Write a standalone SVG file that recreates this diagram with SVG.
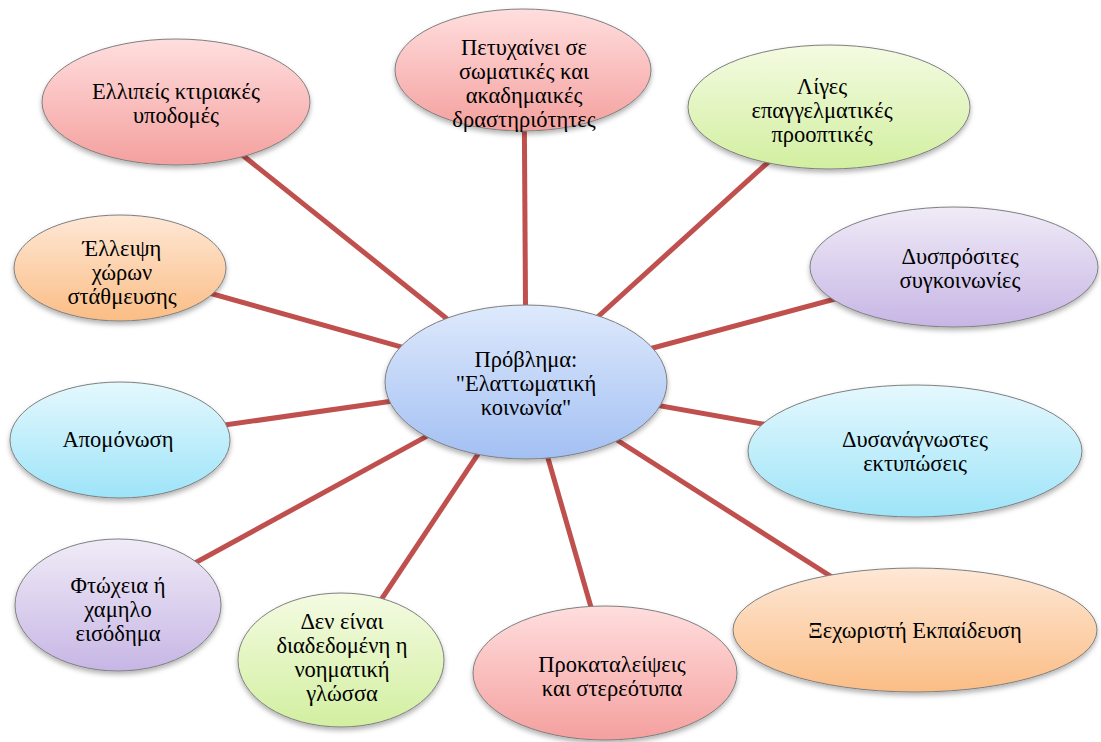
<svg xmlns="http://www.w3.org/2000/svg" width="1101" height="742" viewBox="0 0 1101 742">
<defs>
<linearGradient id="gRed" x1="0" y1="0" x2="0" y2="1"><stop offset="0" stop-color="#FFDEDE"/><stop offset="1" stop-color="#F4A09E"/></linearGradient>
<linearGradient id="gBlue" x1="0" y1="0" x2="0" y2="1"><stop offset="0" stop-color="#DEE9FC"/><stop offset="1" stop-color="#A3C0F3"/></linearGradient>
<linearGradient id="gGreen" x1="0" y1="0" x2="0" y2="1"><stop offset="0" stop-color="#F4FBE2"/><stop offset="1" stop-color="#D2EFA0"/></linearGradient>
<linearGradient id="gOrange" x1="0" y1="0" x2="0" y2="1"><stop offset="0" stop-color="#FEE8D6"/><stop offset="1" stop-color="#FBBD85"/></linearGradient>
<linearGradient id="gPurple" x1="0" y1="0" x2="0" y2="1"><stop offset="0" stop-color="#F0EBF7"/><stop offset="1" stop-color="#C7B6E5"/></linearGradient>
<linearGradient id="gCyan" x1="0" y1="0" x2="0" y2="1"><stop offset="0" stop-color="#E5F8FE"/><stop offset="1" stop-color="#9DE4F8"/></linearGradient>
<filter id="sh" x="-10%" y="-10%" width="120%" height="130%"><feDropShadow dx="0" dy="3" stdDeviation="2.5" flood-color="#000" flood-opacity="0.3"/></filter>
</defs>
<style>
.n ellipse{stroke:#7F7F7F;stroke-width:1;filter:url(#sh)}
.n text{font-family:'Liberation Serif','Times New Roman',serif;font-size:22.5px;fill:#000;text-anchor:middle}
.c line{stroke:#C0504D;stroke-width:5}
</style>
<rect width="1101" height="742" fill="#FFFFFF"/>
<g id="connectors" class="c">
<line x1="526" y1="382" x2="176" y2="102"/>
<line x1="526" y1="382" x2="524" y2="70"/>
<line x1="526" y1="382" x2="829" y2="107"/>
<line x1="526" y1="382" x2="120" y2="268"/>
<line x1="526" y1="382" x2="954" y2="267"/>
<line x1="526" y1="382" x2="120" y2="440"/>
<line x1="526" y1="382" x2="915" y2="451"/>
<line x1="526" y1="382" x2="118" y2="605"/>
<line x1="526" y1="382" x2="341" y2="660"/>
<line x1="526" y1="382" x2="610" y2="673"/>
<line x1="526" y1="382" x2="915" y2="630"/>
</g>
<g id="center" class="n">
<ellipse cx="526" cy="382" rx="141" ry="77" fill="url(#gBlue)"/>
<text x="526" y="367">Πρόβλημα:</text>
<text x="526" y="391">"Ελαττωματική</text>
<text x="526" y="415">κοινωνία"</text>
</g>
<g id="n1" class="n">
<ellipse cx="176" cy="102" rx="134" ry="63" fill="url(#gRed)"/>
<text x="176" y="99">Ελλιπείς κτιριακές</text>
<text x="176" y="123">υποδομές</text>
</g>
<g id="n2" class="n">
<ellipse cx="523" cy="70" rx="128" ry="61" fill="url(#gRed)"/>
<text x="524" y="55">Πετυχαίνει σε</text>
<text x="524" y="79">σωματικές και</text>
<text x="524" y="103">ακαδημαικές</text>
<text x="524" y="127">δραστηριότητες</text>
</g>
<g id="n3" class="n">
<ellipse cx="829" cy="107" rx="141" ry="62" fill="url(#gGreen)"/>
<text x="822" y="94">Λίγες</text>
<text x="822" y="118">επαγγελματικές</text>
<text x="822" y="142">προοπτικές</text>
</g>
<g id="n4" class="n">
<ellipse cx="120" cy="268" rx="106" ry="53" fill="url(#gOrange)"/>
<text x="122" y="256">Έλλειψη</text>
<text x="122" y="280">χώρων</text>
<text x="122" y="304">στάθμευσης</text>
</g>
<g id="n5" class="n">
<ellipse cx="954" cy="267" rx="144" ry="60" fill="url(#gPurple)"/>
<text x="960" y="264">Δυσπρόσιτες</text>
<text x="960" y="288">συγκοινωνίες</text>
</g>
<g id="n6" class="n">
<ellipse cx="120" cy="440" rx="110" ry="58" fill="url(#gCyan)"/>
<text x="118" y="447">Απομόνωση</text>
</g>
<g id="n7" class="n">
<ellipse cx="915" cy="451" rx="167" ry="66" fill="url(#gCyan)"/>
<text x="915" y="447">Δυσανάγνωστες</text>
<text x="915" y="471">εκτυπώσεις</text>
</g>
<g id="n8" class="n">
<ellipse cx="118" cy="605" rx="103" ry="66" fill="url(#gPurple)"/>
<text x="118" y="593">Φτώχεια ή</text>
<text x="118" y="617">χαμηλο</text>
<text x="118" y="641">εισόδημα</text>
</g>
<g id="n9" class="n">
<ellipse cx="341" cy="660" rx="103" ry="67" fill="url(#gGreen)"/>
<text x="342" y="629">Δεν είναι</text>
<text x="342" y="653">διαδεδομένη η</text>
<text x="342" y="677">νοηματική</text>
<text x="342" y="701">γλώσσα</text>
</g>
<g id="n10" class="n">
<ellipse cx="605" cy="673" rx="132" ry="67" fill="url(#gRed)"/>
<text x="612" y="672">Προκαταλείψεις</text>
<text x="612" y="696">και στερεότυπα</text>
</g>
<g id="n11" class="n">
<ellipse cx="915" cy="630" rx="182" ry="62" fill="url(#gOrange)"/>
<text x="915" y="638">Ξεχωριστή Εκπαίδευση</text>
</g>
</svg>
